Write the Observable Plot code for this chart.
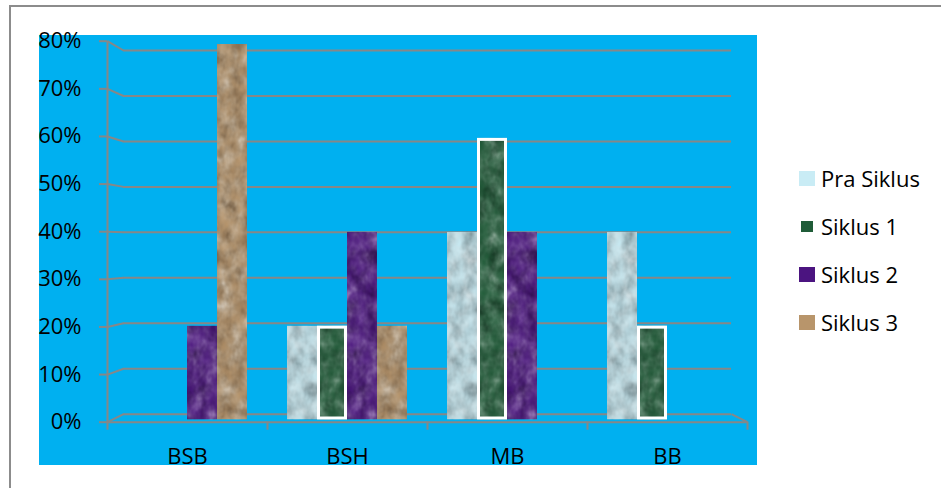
<!DOCTYPE html>
<html>
<head>
<meta charset="utf-8">
<script src="https://cdn.jsdelivr.net/npm/d3@7"></script>
<script src="https://cdn.jsdelivr.net/npm/@observablehq/plot@0.6"></script>
<style>
  html, body { margin: 0; padding: 0; background: #ffffff; }
  #chart { position: relative; width: 941px; height: 488px; overflow: hidden; background: #ffffff; font-family: "Open Sans", sans-serif; }
  #frame { position: absolute; left: 9px; top: 5px; right: -4px; bottom: -4px; border-top: 2px solid #8c8c8c; border-left: 2px solid #8c8c8c; }
  #plotbg { position: absolute; left: 39px; top: 35px; width: 718px; height: 430px; background: #00b0f0; }
  .layer { position: absolute; left: 0; top: 0; }
  #legend { position: absolute; left: 799px; top: 154px; font-family: "Open Sans", sans-serif; font-size: 22px; color: #000; }
  .item { display: flex; align-items: center; height: 48px; }
  .sw { width: 16px; height: 15px; box-sizing: border-box; margin-right: 6px; }
</style>
</head>
<body>
<div id="chart">
  <div id="frame"></div>
  <div id="plotbg"></div>
</div>
<svg width="0" height="0" style="position:absolute">
  <defs>
    <filter id="tex" x="0" y="0" width="1" height="1" color-interpolation-filters="sRGB">
      <feTurbulence type="fractalNoise" baseFrequency="0.08 0.06" numOctaves="3" seed="4" result="noise"/>
      <feColorMatrix in="noise" type="saturate" values="0" result="gray"/>
      <feComponentTransfer in="gray" result="contrast">
        <feFuncR type="linear" slope="1.1" intercept="-0.05"/>
        <feFuncG type="linear" slope="1.1" intercept="-0.05"/>
        <feFuncB type="linear" slope="1.1" intercept="-0.05"/>
      </feComponentTransfer>
      <feBlend in="SourceGraphic" in2="contrast" mode="soft-light" result="blend"/>
      <feComposite in="blend" in2="SourceGraphic" operator="in"/>
    </filter>
  </defs>
</svg>
<script>
// ---- data ----
const categories = ["BSB", "BSH", "MB", "BB"];
const seriesNames = ["Pra Siklus", "Siklus 1", "Siklus 2", "Siklus 3"];
const praSiklus = [0, 0.2, 0.4, 0.4];
const siklus1   = [0, 0.2, 0.6, 0.2];
const siklus2   = [0.2, 0.4, 0.4, 0];
const siklus3   = [0.8, 0.2, 0, 0];
const yTicks = [0, 0.1, 0.2, 0.3, 0.4, 0.5, 0.6, 0.7, 0.8];
const seriesColors = ["#c9ecf5", "#1f5c38", "#4b1480", "#b8956b"];

const seriesValues = [praSiklus, siklus1, siklus2, siklus3];
const rows = [];
categories.forEach((c, i) => seriesNames.forEach((s, j) => rows.push({category: c, series: s, value: seriesValues[j][i]})));

// ---- layout ----
const W = 941, H = 488, ML = 107, MR = 941 - 747;
const GRID = "#878787";
const DEPTH = 0.1; // depth offset of the back wall, in category units
const frontR = [421.7, 40.7], barR = [419.5, 44], backR = [413.7, 50];
const frontScale = Plot.scale({y: {domain: [0, 0.8], range: frontR}});
const backScale = Plot.scale({y: {domain: [0, 0.8], range: backR}});
const frontInBack = v => backScale.invert(frontScale.apply(v));

const baseStyle = {background: "transparent", fontFamily: "'Open Sans', sans-serif", fontSize: "22px", color: "black", overflow: "visible"};
function layer(opts) {
  const svg = Plot.plot({width: W, height: H, marginLeft: ML, marginRight: MR, style: baseStyle, ...opts});
  svg.classList.add("layer");
  document.getElementById("chart").appendChild(svg);
  return svg;
}

// back wall: gridlines and perspective connectors
layer({
  marginTop: backR[1], marginBottom: H - backR[0],
  x: {domain: [0, categories.length], axis: null},
  y: {domain: [0, 0.8], axis: null},
  marks: [
    Plot.ruleY(yTicks, {x1: DEPTH, x2: categories.length - DEPTH, stroke: GRID, strokeWidth: 2}),
    Plot.link(yTicks, {x1: 0, y1: frontInBack, x2: DEPTH, y2: d => d, stroke: GRID, strokeWidth: 2}),
    Plot.link([0], {x1: categories.length - DEPTH, y1: d => d, x2: categories.length, y2: frontInBack, stroke: GRID, strokeWidth: 2})
  ]
});

// front axis
layer({
  marginTop: frontR[1], marginBottom: H - frontR[0],
  x: {domain: [0, categories.length], axis: null},
  y: {domain: [0, 0.8], axis: null},
  marks: [
    Plot.ruleX([0], {stroke: GRID, strokeWidth: 2}),
    Plot.ruleY([0], {stroke: GRID, strokeWidth: 2}),
    Plot.axisY(yTicks, {tickSize: 8, tickPadding: 18, tickFormat: d3.format(".0%"), stroke: GRID, strokeWidth: 2, fill: "black", fontSize: 22, label: null}),
    Plot.axisX(d3.range(categories.length + 1), {tickSize: 8, tickFormat: () => "", stroke: GRID, strokeWidth: 2, label: null})
  ]
});

// bars
const barsSvg = layer({
  marginTop: barR[1], marginBottom: H - barR[0],
  fx: {domain: categories, paddingInner: 0.2375, paddingOuter: 0.11875, label: null, tickSize: 0, tickPadding: 28.5},
  x: {domain: seriesNames, axis: null, padding: 0},
  y: {domain: [0, 0.8], axis: null},
  color: {domain: seriesNames, range: seriesColors},
  marks: [
    Plot.barY(rows, {fx: "category", x: "series", y: "value", fill: "series", inset: 0}),
    Plot.barY(rows, {fx: "category", x: "series", y: "value", fill: "none", stroke: "white", strokeWidth: 3,
      strokeOpacity: d => d.series === "Siklus 1" ? 1 : 0, inset: 1.5})
  ]
});
// surface texture on filled bars
barsSvg.querySelectorAll("rect").forEach(r => {
  const f = r.getAttribute("fill") || (r.parentNode && r.parentNode.getAttribute("fill"));
  if (f && f !== "none") r.setAttribute("filter", "url(#tex)");
});

// legend
const legend = document.createElement("div");
legend.id = "legend";
seriesNames.forEach((s, j) => {
  const item = document.createElement("div");
  item.className = "item";
  const sw = document.createElement("span");
  sw.className = "sw";
  sw.style.background = seriesColors[j];
  if (s === "Siklus 1") sw.style.border = "2px solid #ffffff";
  const t = document.createElement("span");
  t.textContent = s;
  item.appendChild(sw); item.appendChild(t);
  legend.appendChild(item);
});
document.getElementById("chart").appendChild(legend);
</script>
</body>
</html>
